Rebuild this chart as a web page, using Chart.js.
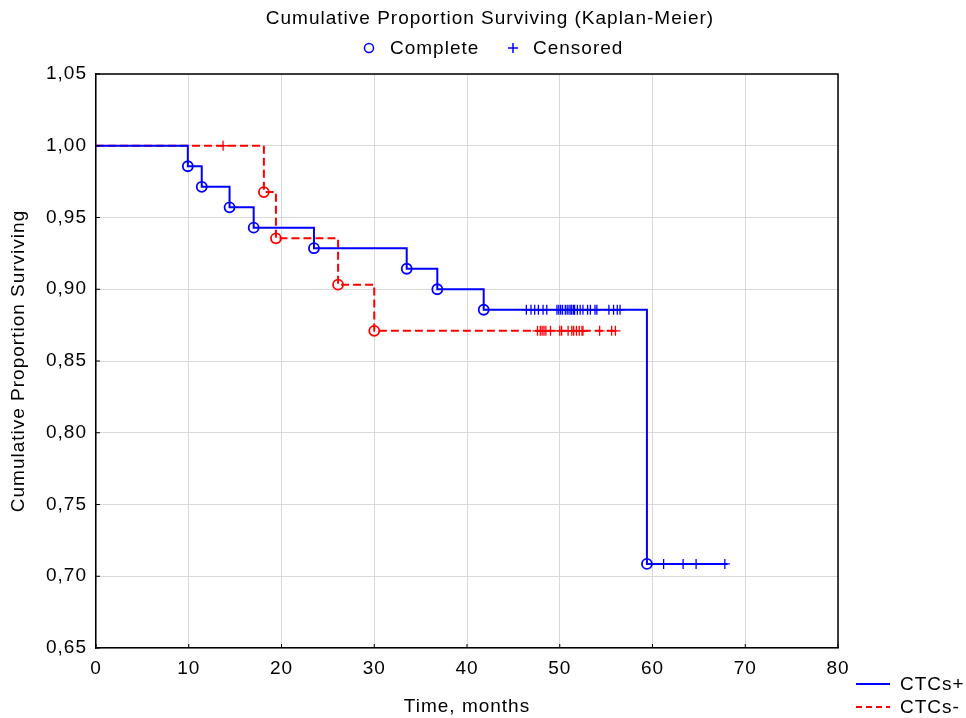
<!DOCTYPE html>
<html>
<head>
<meta charset="utf-8">
<script src="https://cdn.jsdelivr.net/npm/chart.js@4/dist/chart.umd.min.js"></script>
<style>
  html, body { margin: 0; padding: 0; background: #fff; }
</style>
</head>
<body>
<canvas id="km" width="966" height="718"></canvas>
<script>
// CTCs+ group (solid blue)
const posTimes = [9.9, 11.4, 14.4, 17.0, 23.5, 33.5, 36.8, 41.8, 59.4];
const posSurv = [0.9857, 0.9714, 0.9571, 0.9429, 0.9286, 0.9143, 0.9000, 0.8857, 0.7086];
const posEnd = 68.1;
const posCensored = [46.4, 46.9, 47.3, 47.7, 48.2, 48.6, 49.7, 49.9, 50.1, 50.3, 50.6, 50.8,
  51.0, 51.2, 51.3, 51.5, 51.6, 51.9, 52.2, 52.5, 53.0, 53.3, 53.8, 54.0, 55.3, 55.8, 56.2, 56.5,
  61.2, 63.3, 64.7, 67.8];

// CTCs- group (dashed red)
const negTimes = [18.1, 19.4, 26.1, 30.0];
const negSurv = [0.9677, 0.9355, 0.9032, 0.8710];
const negEnd = 56.4;
const negCensored = [13.7, 47.6, 47.9, 48.1, 48.3, 48.5, 49.0, 50.0, 50.2, 50.9, 51.3, 51.5,
  51.8, 52.1, 52.4, 52.5, 54.3, 55.6, 56.0];

const xMin = 0, xMax = 80, xStep = 10;
const yMin = 0.65, yMax = 1.05, yStep = 0.05;

const BLUE = '#0000ff';
const RED = '#ff0000';
const FONT = "'Liberation Sans', Arial, sans-serif";
const FSIZE = 19;
const SPACING = '1px';

function survivalAt(times, surv, t) {
  let s = 1;
  for (let i = 0; i < times.length; i++) {
    if (times[i] <= t) s = surv[i];
  }
  return s;
}

function stepLine(times, surv, end) {
  const pts = [{ x: 0, y: 1 }];
  times.forEach((t, i) => pts.push({ x: t, y: surv[i] }));
  pts.push({ x: end, y: surv[surv.length - 1] });
  return pts;
}

function eventPoints(times, surv) {
  return times.map((t, i) => ({ x: t, y: surv[i] }));
}

function censorPoints(cens, times, surv) {
  return cens.map(t => ({ x: t, y: survivalAt(times, surv, t) }));
}

// slightly wide lettering like the original export
const spacing = {
  id: 'spacing',
  beforeLayout(chart) { chart.ctx.letterSpacing = SPACING; },
  beforeDraw(chart) { chart.ctx.letterSpacing = SPACING; }
};

const frame = {
  id: 'frame',
  afterDraw(chart) {
    const { ctx, chartArea: a, scales } = chart;
    ctx.save();
    ctx.letterSpacing = SPACING;
    ctx.strokeStyle = '#000';
    ctx.lineWidth = 1.5;
    ctx.beginPath();
    ctx.moveTo(a.left, a.top);
    ctx.lineTo(a.right, a.top);
    ctx.lineTo(a.right, a.bottom);
    ctx.stroke();

    // inside tick marks
    ctx.lineWidth = 1;
    ctx.beginPath();
    scales.x.ticks.forEach(t => {
      const x = scales.x.getPixelForValue(t.value);
      ctx.moveTo(x, a.bottom);
      ctx.lineTo(x, a.bottom - 4);
    });
    scales.y.ticks.forEach(t => {
      const y = scales.y.getPixelForValue(t.value);
      ctx.moveTo(a.left, y);
      ctx.lineTo(a.left + 4, y);
    });
    ctx.stroke();

    // title
    ctx.fillStyle = '#000';
    ctx.font = FSIZE + 'px ' + FONT;
    ctx.textBaseline = 'middle';
    ctx.textAlign = 'center';
    ctx.fillText('Cumulative Proportion Surviving (Kaplan-Meier)', 490, 19);

    // top legend
    ctx.textAlign = 'left';
    ctx.strokeStyle = BLUE;
    ctx.lineWidth = 1.5;
    ctx.beginPath();
    ctx.arc(369, 48, 4.5, 0, Math.PI * 2);
    ctx.stroke();
    ctx.fillText('Complete', 390, 49);
    ctx.beginPath();
    ctx.moveTo(508, 48); ctx.lineTo(518, 48);
    ctx.moveTo(513, 43); ctx.lineTo(513, 53);
    ctx.stroke();
    ctx.fillText('Censored', 533, 49);

    // bottom-right legend
    ctx.lineWidth = 2;
    ctx.beginPath();
    ctx.moveTo(856, 684); ctx.lineTo(890, 684);
    ctx.stroke();
    ctx.fillText('CTCs+', 900, 685);
    ctx.strokeStyle = RED;
    ctx.setLineDash([6, 4]);
    ctx.beginPath();
    ctx.moveTo(856, 707); ctx.lineTo(890, 707);
    ctx.stroke();
    ctx.setLineDash([]);
    ctx.fillText('CTCs-', 900, 708);
    ctx.restore();
  }
};

const ctx = document.getElementById('km').getContext('2d');

new Chart(ctx, {
  type: 'scatter',
  data: {
    datasets: [
      {
        label: 'CTCs+',
        data: stepLine(posTimes, posSurv, posEnd),
        showLine: true,
        stepped: true,
        borderColor: BLUE,
        borderWidth: 2,
        pointRadius: 0,
        fill: false
      },
      {
        label: 'CTCs-',
        data: stepLine(negTimes, negSurv, negEnd),
        showLine: true,
        stepped: true,
        borderColor: RED,
        borderWidth: 2,
        borderDash: [8, 4],
        pointRadius: 0,
        fill: false
      },
      {
        label: 'CTCs+ complete',
        data: eventPoints(posTimes, posSurv),
        pointStyle: 'circle',
        pointRadius: 5,
        borderColor: BLUE,
        backgroundColor: 'rgba(0,0,0,0)',
        borderWidth: 1.8
      },
      {
        label: 'CTCs- complete',
        data: eventPoints(negTimes, negSurv),
        pointStyle: 'circle',
        pointRadius: 5,
        borderColor: RED,
        backgroundColor: 'rgba(0,0,0,0)',
        borderWidth: 1.8
      },
      {
        label: 'CTCs+ censored',
        data: censorPoints(posCensored, posTimes, posSurv),
        pointStyle: 'cross',
        pointRadius: 5,
        borderColor: BLUE,
        borderWidth: 1.3
      },
      {
        label: 'CTCs- censored',
        data: censorPoints(negCensored, negTimes, negSurv),
        pointStyle: 'cross',
        pointRadius: 5,
        borderColor: RED,
        borderWidth: 1.3
      }
    ]
  },
  options: {
    responsive: false,
    animation: false,
    layout: { padding: { top: 74, right: 128, bottom: 0, left: 0 } },
    plugins: {
      legend: { display: false },
      title: { display: false },
      tooltip: { enabled: false }
    },
    scales: {
      x: {
        type: 'linear',
        min: xMin,
        max: xMax,
        ticks: { stepSize: xStep, color: '#000', font: { family: FONT, size: FSIZE }, padding: 9, maxRotation: 0 },
        grid: { color: '#dadada', drawTicks: false },
        border: { display: true, color: '#000', width: 1.5 },
        title: { display: true, text: 'Time, months', color: '#000', font: { family: FONT, size: FSIZE }, padding: { top: 0, bottom: 0 } },
        afterFit: s => { s.height = 70; }
      },
      y: {
        min: yMin,
        max: yMax,
        ticks: {
          stepSize: yStep,
          color: '#000',
          font: { family: FONT, size: FSIZE },
          padding: 9,
          callback: v => v.toFixed(2).replace('.', ',')
        },
        grid: { color: '#dadada', drawTicks: false },
        border: { display: true, color: '#000', width: 1.5 },
        title: { display: true, text: 'Cumulative Proportion Surviving', color: '#000', font: { family: FONT, size: FSIZE }, padding: { top: 7, bottom: 0 } },
        afterFit: s => { s.width = 96; }
      }
    }
  },
  plugins: [spacing, frame]
});
</script>
</body>
</html>
